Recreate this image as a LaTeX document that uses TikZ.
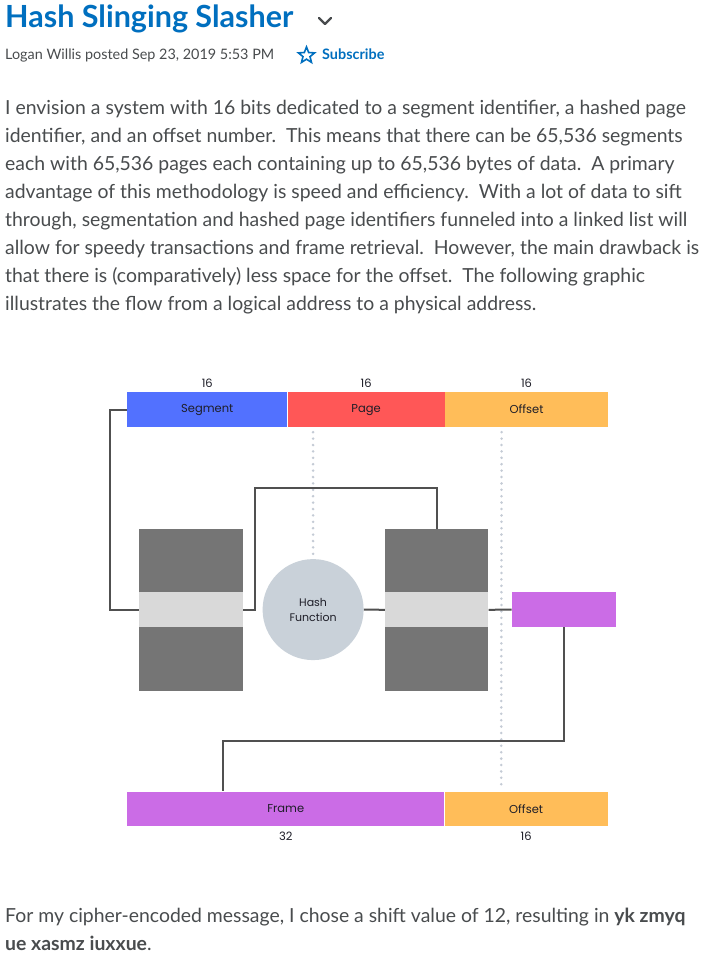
\documentclass[tikz,border=0pt]{standalone}
\usepackage{fontspec}
\setmainfont{Lato}
\newfontfamily\diafont{Poppins}
\usetikzlibrary{positioning,shapes.geometric,calc}
\definecolor{cTitle}{RGB}{0,111,191}
\definecolor{cText}{RGB}{73,76,78}
\definecolor{cSeg}{RGB}{82,113,255}
\definecolor{cPage}{RGB}{255,87,87}
\definecolor{cOff}{RGB}{255,189,89}
\definecolor{cFrame}{RGB}{203,108,230}
\definecolor{cTab}{RGB}{117,117,117}
\definecolor{cBand}{RGB}{217,217,217}
\definecolor{cHash}{RGB}{201,209,217}
\definecolor{cWire}{RGB}{80,80,80}
\definecolor{cDot}{RGB}{196,203,213}
\tikzset{bodyline/.style={
  anchor=base west,
  inner sep=0pt,
  text=cText,
  font=\fontsize{19.4}{28}\selectfont,
  }
}
\tikzset{field/.style={
  shape=rectangle,
  anchor=north west,
  inner sep=0pt,
  minimum height=34.8pt,
  font=\diafont\fontsize{11.5}{13}\selectfont,
  text={rgb,255:red,30;green,30;blue,40},
  }
}
\tikzset{numlbl/.style={
  inner sep=0pt,
  font=\diafont\fontsize{11.5}{13}\selectfont,
  text={rgb,255:red,30;green,30;blue,40},
  }
}
\tikzset{table/.style={
  shape=rectangle,
  anchor=north west,
  fill=cTab,
  inner sep=0pt,
  minimum height=162.2pt,
  }
}
\tikzset{wire/.style={draw=cWire, line width=2pt}}
\tikzset{dots/.style={draw=cDot, line width=2.8pt, line cap=round, dash pattern=on 0pt off 6.4pt}}

\begin{document}
\begin{tikzpicture}[x=1pt,y=-1pt]
  \useasboundingbox[fill=white] (0,0) rectangle (710,958);

  % heading
  \node[anchor=base west, inner sep=0pt, text=cTitle, font=\bfseries\fontsize{30.5}{32}\selectfont] (title) at (5,27.3) {Hash Slinging Slasher};
  \coordinate (chev) at (325,21);
  \draw[cText, line width=2.4pt, line cap=round, line join=round] ($(chev)+(-6,-3)$) -- ($(chev)+(0,3)$) -- ($(chev)+(6,-3)$);
  \node[anchor=base west, inner sep=0pt, text=cText, font=\fontsize{14.4}{16}\selectfont] (meta) at (5,59.3) {Logan Willis posted Sep 23, 2019 5:53 PM};
  \node[star, star points=5, star point ratio=2.3, draw=cTitle, line width=1.6pt, minimum size=17pt, inner sep=0pt] (star) at (306.5,55.5) {};
  \node[anchor=base west, inner sep=0pt, text=cTitle, font=\bfseries\fontsize{14.4}{16}\selectfont] (subs) at (322,59.3) {Subscribe};

  % body
  \node[bodyline] (l1) at (5,114.3) {I envision a system with 16 bits dedicated to a segment identifier, a hashed page};
  \node[bodyline] (l2) at (5,142.3) {identifier, and an offset number.\ \ This means that there can be 65,536 segments};
  \node[bodyline] (l3) at (5,170.3) {each with 65,536 pages each containing up to 65,536 bytes of data.\ \ A primary};
  \node[bodyline] (l4) at (5,198.3) {advantage of this methodology is speed and efficiency.\ \ With a lot of data to sift};
  \node[bodyline] (l5) at (5,226.3) {through, segmentation and hashed page identifiers funneled into a linked list will};
  \node[bodyline] (l6) at (5,254.3) {allow for speedy transactions and frame retrieval.\ \ However, the main drawback is};
  \node[bodyline] (l7) at (5,282.3) {that there is (comparatively) less space for the offset.\ \ The following graphic};
  \node[bodyline] (l8) at (5,310.3) {illustrates the flow from a logical address to a physical address.};

  % logical address
  \node[field, fill=cSeg, minimum width=159.8pt] (seg) at (127.2,392) {Segment};
  \node[field, fill=cPage, minimum width=157pt, right=0pt of seg] (page) {Page};
  \node[field, fill=cOff, minimum width=163pt, right=0pt of page] (off) {Offset};
  \node[numlbl, above=4pt of seg] (n1) {16};
  \node[numlbl, above=4pt of page] (n2) {16};
  \node[numlbl, above=4pt of off] (n3) {16};

  % tables and hash
  \node[table, minimum width=103.8pt] (segtab) at (139,528.5) {};
  \node[fill=cBand, inner sep=0pt, minimum width=103.8pt, minimum height=34.8pt] (segband) at (segtab.center) {};
  \node[circle, fill=cHash, minimum size=101pt, inner sep=0pt, align=center, font=\diafont\fontsize{11}{15}\selectfont, text={rgb,255:red,30;green,30;blue,40}] (hash) at (313.1,609.6) {Hash\\Function};
  \node[table, minimum width=103.4pt] (pagetab) at (384.8,528.5) {};
  \node[fill=cBand, inner sep=0pt, minimum width=103.4pt, minimum height=34.8pt] (pageband) at (pagetab.center) {};
  \node[field, fill=cFrame, minimum width=104.1pt] (frmbox) at (511.6,592) {};

  % physical address
  \node[field, fill=cFrame, minimum width=316.8pt] (frame) at (127.2,791.4) {Frame};
  \node[field, fill=cOff, minimum width=163pt, right=0pt of frame] (poff) {Offset};
  \node[numlbl, below=5pt of frame] (n4) {32};
  \node[numlbl, below=5pt of poff] (n5) {16};

  % dotted guides
  \draw[dots] ($(hash.north |- page.south)+(0,5)$) -- ($(hash.north)+(0,-4)$);
  \draw[dots] ($(off.south west)+(56.8,5)$) -- ($(poff.north west)+(56.8,-2)$);

  % connectors
  \draw[wire] (seg.west) -- ++(-17,0) |- (segband.west);
  \draw[wire] (segband.east) -| ($(segband.east)+(12,-122)$) -| (pagetab.north);
  \draw[wire] (hash.east) -- (pageband.west);
  \draw[wire] (pageband.east) -- (frmbox.west);
  \draw[wire] (frmbox.south) |- ($(frame.north west)+(95.3,-50)$) -- ($(frame.north west)+(95.3,0)$);

  % closing text
  \node[bodyline] (c1) at (5,922.5) {For my cipher-encoded message, I chose a shift value of 12, resulting in \textbf{yk zmyq}};
  \node[bodyline] (c2) at (5,950.5) {\textbf{ue xasmz iuxxue}.};
\end{tikzpicture}
\end{document}
